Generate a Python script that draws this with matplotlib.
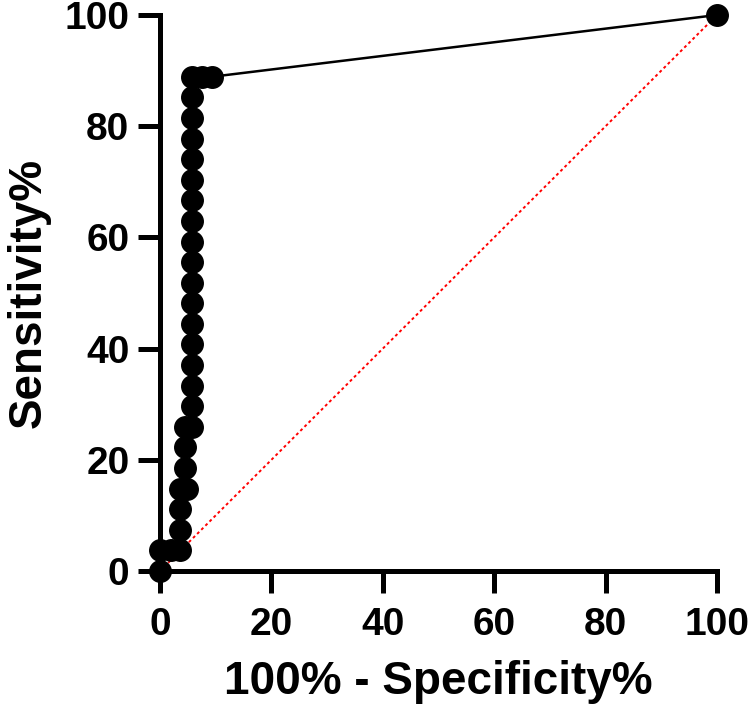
import matplotlib
matplotlib.use("Agg")
import matplotlib.pyplot as plt

plt.rcParams['font.family'] = ['Liberation Sans', 'DejaVu Sans']
plt.rcParams['font.weight'] = 'bold'

# ROC points (100% - specificity, sensitivity)
step = 100 / 27
fpr = [0, 0, 1.9, 3.6, 3.6, 3.6, 3.6, 4.9, 4.5, 4.5, 4.5, 5.7]
sens = [0, step, step, step, 2 * step, 3 * step, 4 * step, 4 * step,
        5 * step, 6 * step, 7 * step, 7 * step]
# vertical run at ~5.7 from 8/27 up to 24/27
for k in range(8, 25):
    fpr.append(5.7)
    sens.append(k * step)
fpr += [7.5, 9.3, 100]
sens += [24 * step, 24 * step, 100]

fig = plt.figure(figsize=(7.5, 7.18), dpi=100)
ax = fig.add_axes([0.2133, 0.2047, 0.7427, 0.7744])

ax.plot([0, 100], [0, 100], color='red', linestyle=(0, (1.5, 1.5)), linewidth=1.4, zorder=1)
ax.plot(fpr, sens, color='black', linewidth=1.8, marker='o', markersize=15.5,
        clip_on=False, zorder=3)

ax.set_xlim(0, 100)
ax.set_ylim(0, 100)
ax.set_xticks(range(0, 101, 20))
ax.set_yticks(range(0, 101, 20))
for s in ['top', 'right']:
    ax.spines[s].set_visible(False)
for s in ['left', 'bottom']:
    ax.spines[s].set_linewidth(3.6)
ax.tick_params(axis='both', length=16, width=3.6, labelsize=28, direction='out')
ax.tick_params(axis='x', pad=10)
ax.tick_params(axis='y', pad=6)
ax.set_xlabel('100% - Specificity%', fontsize=33, fontweight='bold', labelpad=12)
ax.set_ylabel('Sensitivity%', fontsize=33, fontweight='bold', labelpad=10)

fig.savefig('out.png', dpi=100)
